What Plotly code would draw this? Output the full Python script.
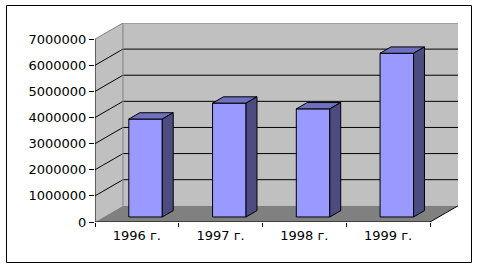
import plotly.graph_objects as go

# ---- data ----
categories = ["1996 г.", "1997 г.", "1998 г.", "1999 г."]
values = [3750000, 4360000, 4140000, 6270000]
y_tick_vals = [0, 1000000, 2000000, 3000000, 4000000, 5000000, 6000000, 7000000]
y_tick_text = ["0", "1000000", "2000000", "3000000", "4000000", "5000000", "6000000", "7000000"]

# ---- 3D-look geometry (style) ----
W_PX, H_PX = 480, 269
ML, MR, MT, MB = 95, 22, 23, 47
N = len(categories)
DX = 0.334          # depth offset in category units
DY = 620000         # depth offset in value units
F0, F1 = 0.31, 0.70  # bar front/back depth fraction
BAR_W = 0.40
YMAX = max(y_tick_vals)
X_RANGE = [0, N + DX]
Y_RANGE = [0, YMAX + DY]

FRONT = "#9999FF"
TOP = "#7070C0"
SIDE = "#4C4C80"
WALL = "#C0C0C0"
FLOOR = "#808080"
EDGE = "#808080"

fig = go.Figure()

def poly(xs, ys, fill, line_color=None, width=1):
    fig.add_trace(go.Scatter(
        x=list(xs) + [xs[0]], y=list(ys) + [ys[0]], mode="lines",
        fill="toself", fillcolor=fill,
        line=dict(color=line_color or fill, width=width if line_color else 0),
        hoverinfo="skip", showlegend=False))

def seg(xs, ys, color, width=1):
    fig.add_trace(go.Scatter(x=xs, y=ys, mode="lines",
                             line=dict(color=color, width=width),
                             hoverinfo="skip", showlegend=False))

# side wall and back wall
poly([0, 0, DX, DX], [0, YMAX, YMAX + DY, DY], WALL)
poly([DX, N + DX, N + DX, DX], [DY, DY, YMAX + DY, YMAX + DY], WALL)
# floor
poly([0, DX, N + DX, N], [0, DY, DY, 0], FLOOR)

# gridlines
for v in y_tick_vals[1:-1]:
    seg([0, DX, N + DX], [v, v + DY, v + DY], "black", 1)

# wall edges
seg([0, DX, N + DX], [YMAX, YMAX + DY, YMAX + DY], EDGE, 1)
seg([DX, DX], [DY, YMAX + DY], EDGE, 1)

# bars (front, top, side faces)
ddx = (F1 - F0) * DX
ddy = (F1 - F0) * DY
for i, v in enumerate(values):
    cx = i + 0.5 + F0 * DX
    x0 = cx - BAR_W / 2
    x1 = cx + BAR_W / 2
    yb = F0 * DY
    yt = yb + v
    poly([x0, x1, x1, x0], [yb, yb, yt, yt], FRONT, "black", 1)
    poly([x0, x1, x1 + ddx, x0 + ddx], [yt, yt, yt + ddy, yt + ddy], TOP, "black", 1)
    poly([x1, x1, x1 + ddx, x1 + ddx], [yb, yt, yt + ddy, yb + ddy], SIDE, "black", 1)

# front axes
seg([0, 0], [0, YMAX], "black", 1)
seg([0, N, N + DX], [0, 0, DY], "black", 1)

plot_w = W_PX - ML - MR
plot_h = H_PX - MT - MB
fig.add_shape(type="rect", xref="paper", yref="paper",
              x0=(6.5 - ML) / plot_w, x1=(471.5 - ML) / plot_w,
              y0=(H_PX - MB - 262.5) / plot_h, y1=(H_PX - MB - 5.5) / plot_h,
              line=dict(color="black", width=1), layer="above")

font = dict(family="DejaVu Sans", size=13, color="black")
fig.update_layout(
    width=W_PX, height=H_PX,
    margin=dict(l=ML, r=MR, t=MT, b=MB, pad=0),
    paper_bgcolor="white", plot_bgcolor="white",
    font=font, showlegend=False,
    xaxis=dict(range=X_RANGE, showgrid=False, zeroline=False, showline=False,
               tickvals=[i + 0.5 for i in range(N)], ticktext=categories,
               ticks="outside", ticklen=1, tickcolor="rgba(0,0,0,0)",
               minor=dict(tickvals=list(range(N + 1)), ticks="outside",
                          ticklen=4, tickcolor="black", showgrid=False),
               tickfont=font, fixedrange=True),
    yaxis=dict(range=Y_RANGE, showgrid=False, zeroline=False, showline=False,
               tickvals=y_tick_vals, ticktext=y_tick_text,
               ticks="outside", ticklen=5, tickcolor="black",
               tickfont=font, fixedrange=True),
)

fig.write_html("out.html")
